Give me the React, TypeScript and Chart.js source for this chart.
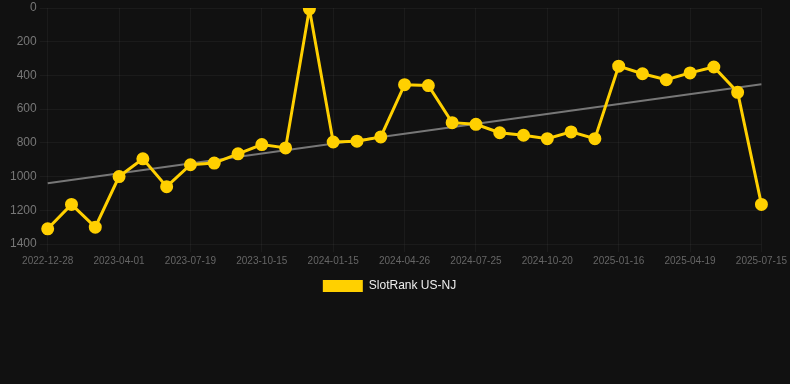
import React, { useEffect, useRef } from "react";
import { Chart, registerables } from "chart.js";

Chart.register(...registerables);

const labels: string[] = [
  "2022-12-28", "2023-01-28", "2023-03-01",
  "2023-04-01", "2023-05-08", "2023-06-13",
  "2023-07-19", "2023-08-17", "2023-09-16",
  "2023-10-15", "2023-11-15", "2023-12-15",
  "2024-01-15", "2024-02-20", "2024-03-24",
  "2024-04-26", "2024-05-26", "2024-06-25",
  "2024-07-25", "2024-08-23", "2024-09-21",
  "2024-10-20", "2024-11-18", "2024-12-17",
  "2025-01-16", "2025-02-16", "2025-03-19",
  "2025-04-19", "2025-05-18", "2025-06-16",
  "2025-07-15",
];

const rankValues: number[] = [
  1310, 1165, 1300, 1000, 895, 1060, 930, 920, 865, 810, 830, 5,
  795, 790, 765, 455, 460, 680, 690, 740, 755, 775, 735, 775,
  345, 390, 425, 385, 350, 500, 1165,
];

const trendStart = 1040;
const trendEnd = 453;

const yTicks = { min: 0, max: 1400, step: 200 };

const FONT = "Arial, 'Liberation Sans', sans-serif";

const legendShift = {
  id: "legendShift",
  afterUpdate(chart: any) {
    const lg = chart.legend;
    if (lg) {
      lg.left -= 9;
      lg.right -= 9;
      if (lg.legendHitBoxes) lg.legendHitBoxes.forEach((h: any) => (h.left -= 9));
    }
  },
};

export default function App() {
  const ref = useRef<HTMLCanvasElement | null>(null);

  useEffect(() => {
    document.body.style.margin = "0";
    document.body.style.background = "#111111";
    const trend = labels.map((_, i) =>
      i === 0 ? trendStart : i === labels.length - 1 ? trendEnd : null
    );
    const chart = new Chart(ref.current!, {
      type: "line",
      data: {
        labels,
        datasets: [
          {
            label: "SlotRank US-NJ",
            data: rankValues,
            borderColor: "#FFD000",
            backgroundColor: "#FFD000",
            borderWidth: 3,
            pointRadius: 5,
            pointHoverRadius: 5,
            pointBackgroundColor: "#FFD000",
            pointBorderColor: "#FFD000",
            tension: 0,
            order: 1,
          },
          {
            label: "trend",
            data: trend,
            borderColor: "#777777",
            backgroundColor: "#777777",
            borderWidth: 2,
            pointRadius: 0,
            spanGaps: true,
            order: 2,
          },
        ],
      },
      plugins: [legendShift],
      options: {
        responsive: false,
        animation: false,
        maintainAspectRatio: false,
        layout: { padding: { left: 7, right: 0, top: 0, bottom: 82 } },
        scales: {
          x: {
            grid: { color: "rgba(255,255,255,0.045)", tickLength: 8 },
            border: { display: false },
            ticks: {
              color: "#666666",
              font: { size: 10, family: FONT },
              autoSkip: false,
              maxRotation: 0,
              callback: function (_v: any, i: number) {
                return i % 3 === 0 ? labels[i] : null;
              },
            },
          },
          y: {
            reverse: true,
            min: yTicks.min,
            max: yTicks.max,
            grid: { color: "rgba(255,255,255,0.045)" },
            border: { display: false },
            afterFit: (s: any) => {
              s.paddingTop = 5;
            },
            ticks: {
              stepSize: yTicks.step,
              color: "#777777",
              font: { size: 12, family: FONT },
              callback: (v: any) => String(v),
            },
          },
        },
        plugins: {
          legend: {
            position: "bottom",
            labels: {
              color: "#eeeeee",
              boxWidth: 40,
              boxHeight: 12,
              font: { size: 12, family: FONT },
              filter: (item: any) => item.text !== "trend",
              generateLabels: (c: any) =>
                Chart.defaults.plugins.legend.labels
                  .generateLabels(c)
                  .map((l: any) => ({ ...l, lineWidth: 0 })),
            },
          },
          tooltip: { enabled: false },
        },
      },
    });
    return () => chart.destroy();
  }, []);

  return (
    <div style={{ width: 790, height: 384, background: "#111111" }}>
      <canvas ref={ref} width={790} height={384} style={{ display: "block" }} />
    </div>
  );
}
